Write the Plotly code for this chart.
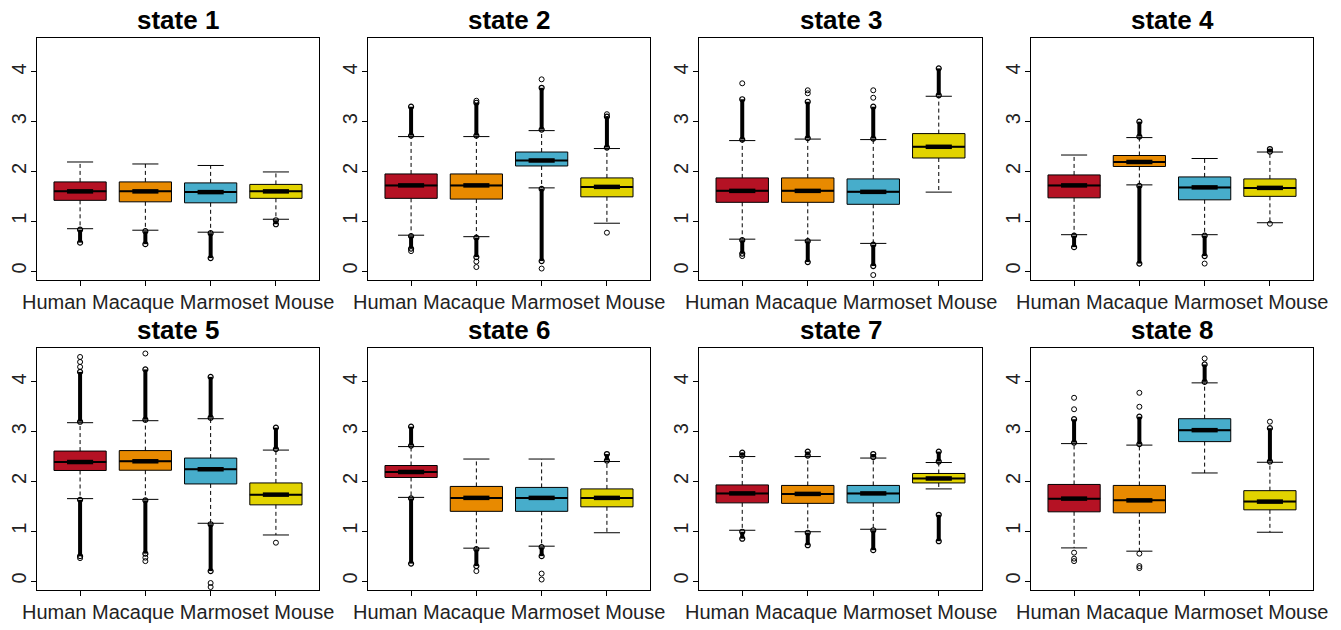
import plotly.graph_objects as go

STATES = ["state 1", "state 2", "state 3", "state 4",
          "state 5", "state 6", "state 7", "state 8"]
SPECIES = ["Human", "Macaque", "Marmoset", "Mouse"]
COLORS = ["#B51224", "#E88A00", "#47ADCB", "#E2D300"]
Y_TICKS = [0, 1, 2, 3, 4]

# box statistics per state (rows) and species (columns)
Q1 = [
    [1.42, 1.39, 1.37, 1.46],
    [1.46, 1.445, 2.11, 1.49],
    [1.38, 1.38, 1.34, 2.27],
    [1.47, 2.10, 1.43, 1.50],
    [2.22, 2.225, 1.95, 1.53],
    [2.08, 1.40, 1.40, 1.49],
    [1.57, 1.56, 1.57, 1.97],
    [1.39, 1.37, 2.80, 1.43],
]
MEDIAN = [
    [1.60, 1.60, 1.585, 1.60],
    [1.72, 1.72, 2.22, 1.69],
    [1.61, 1.61, 1.59, 2.495],
    [1.72, 2.19, 1.68, 1.67],
    [2.39, 2.405, 2.245, 1.735],
    [2.19, 1.67, 1.67, 1.67],
    [1.76, 1.75, 1.76, 2.06],
    [1.655, 1.62, 3.03, 1.595],
]
Q3 = [
    [1.79, 1.79, 1.77, 1.74],
    [1.95, 1.95, 2.39, 1.87],
    [1.87, 1.87, 1.85, 2.76],
    [1.93, 2.32, 1.89, 1.85],
    [2.61, 2.62, 2.47, 1.97],
    [2.32, 1.90, 1.88, 1.85],
    [1.93, 1.92, 1.92, 2.16],
    [1.94, 1.92, 3.26, 1.815],
]
WHISK_LO = [
    [0.85, 0.82, 0.78, 1.04],
    [0.72, 0.69, 1.67, 0.96],
    [0.64, 0.62, 0.555, 1.585],
    [0.73, 1.73, 0.73, 0.97],
    [1.655, 1.64, 1.16, 0.925],
    [1.68, 0.66, 0.70, 0.97],
    [1.02, 0.99, 1.04, 1.85],
    [0.665, 0.60, 2.17, 0.98],
]
WHISK_HI = [
    [2.19, 2.15, 2.12, 1.99],
    [2.70, 2.70, 2.82, 2.46],
    [2.62, 2.65, 2.64, 3.51],
    [2.33, 2.68, 2.26, 2.39],
    [3.18, 3.22, 3.26, 2.63],
    [2.70, 2.45, 2.45, 2.40],
    [2.50, 2.50, 2.47, 2.38],
    [2.76, 2.73, 3.98, 2.385],
]
# dense runs of outliers (low, high)
DENSE_OUT = [
    [[(0.57, 0.83)], [(0.54, 0.80)], [(0.26, 0.76)], [(0.94, 1.02)]],
    [[(2.72, 3.30), (0.45, 0.70)], [(2.72, 3.38), (0.28, 0.67)],
     [(2.84, 3.68), (0.20, 1.65)], [(2.48, 3.10)]],
    [[(2.64, 3.45), (0.35, 0.62)], [(2.67, 3.40), (0.18, 0.60)],
     [(2.66, 3.30), (0.10, 0.53)], [(3.53, 4.07)]],
    [[(0.48, 0.71)], [(2.70, 3.00), (0.15, 1.71)], [(0.30, 0.71)], [(2.40, 2.45)]],
    [[(3.20, 4.20), (0.50, 1.63)], [(3.24, 4.25), (0.55, 1.62)],
     [(3.28, 4.10), (0.20, 1.14)], [(2.65, 3.08)]],
    [[(2.72, 3.10), (0.35, 1.66)], [(0.30, 0.64)], [(0.50, 0.68)], [(2.42, 2.55)]],
    [[(2.52, 2.58), (0.85, 0.99)], [(2.52, 2.60), (0.72, 0.97)],
     [(2.49, 2.55), (0.62, 1.02)], [(2.40, 2.60), (0.80, 1.33)]],
    [[(2.78, 3.25)], [(2.75, 3.30)], [(4.00, 4.35)], [(2.40, 3.07)]],
]
# isolated outliers
SPARSE_OUT = [
    [[], [], [], []],
    [[0.40], [3.42, 0.19, 0.08], [3.85, 0.05], [3.15, 0.77]],
    [[3.77, 0.30], [3.57, 3.63], [3.48, 3.63, -0.08], []],
    [[], [], [0.15], [0.95]],
    [[4.3, 4.4, 4.5, 0.46], [4.57, 0.40, 0.47], [-0.04, -0.12], [0.77]],
    [[], [0.20], [0.15, 0.03], []],
    [[], [], [], []],
    [[3.45, 3.68, 0.57, 0.45, 0.40], [3.50, 3.78, 0.55, 0.30, 0.26], [4.47], [3.20]],
]

W, H = 1341, 630
COL_L = [37, 368, 699, 1031]
COL_R = [319, 650, 982, 1313]
ROW_T = [38, 348]
ROW_B = [280, 590]
BOXW = 0.8
STAPLE = 0.2
FONT = "Liberation Sans, Arial, Helvetica, sans-serif"

fig = go.Figure()
annotations = []
for s in range(8):
    r, c = divmod(s, 4)
    k = s + 1
    xa = "x" if k == 1 else f"x{k}"
    ya = "y" if k == 1 else f"y{k}"
    for j, sp in enumerate(SPECIES):
        pos = j + 1
        q1, md, q3 = Q1[s][j], MEDIAN[s][j], Q3[s][j]
        lo, hi = WHISK_LO[s][j], WHISK_HI[s][j]
        # whiskers (dashed)
        fig.add_trace(go.Scatter(
            x=[pos, pos, None, pos, pos], y=[q3, hi, None, q1, lo],
            mode="lines", line=dict(color="black", width=1, dash="4px,3px"),
            xaxis=xa, yaxis=ya, showlegend=False, hoverinfo="skip"))
        # staples
        fig.add_trace(go.Scatter(
            x=[pos - STAPLE, pos + STAPLE, None, pos - STAPLE, pos + STAPLE],
            y=[hi, hi, None, lo, lo],
            mode="lines", line=dict(color="black", width=1),
            xaxis=xa, yaxis=ya, showlegend=False, hoverinfo="skip"))
        # box
        fig.add_trace(go.Box(
            x=[pos], q1=[q1], median=[md], q3=[q3],
            lowerfence=[q1], upperfence=[q3],
            width=BOXW, whiskerwidth=0, boxpoints=False,
            fillcolor=COLORS[j], line=dict(color="black", width=1),
            xaxis=xa, yaxis=ya, showlegend=False, hoverinfo="skip", name=sp))
        # median: full width + thick central notch segment
        fig.add_trace(go.Scatter(
            x=[pos - BOXW / 2, pos + BOXW / 2], y=[md, md],
            mode="lines", line=dict(color="black", width=2),
            xaxis=xa, yaxis=ya, showlegend=False, hoverinfo="skip"))
        fig.add_trace(go.Scatter(
            x=[pos - BOXW / 4, pos + BOXW / 4], y=[md, md],
            mode="lines", line=dict(color="black", width=4.5),
            xaxis=xa, yaxis=ya, showlegend=False, hoverinfo="skip"))
        # dense outlier runs
        for (a, b) in DENSE_OUT[s][j]:
            fig.add_trace(go.Scatter(
                x=[pos, pos], y=[a, b], mode="lines+markers",
                line=dict(color="black", width=4),
                marker=dict(symbol="circle-open", size=5, color="black",
                            line=dict(width=1.2)),
                xaxis=xa, yaxis=ya, showlegend=False, hoverinfo="skip"))
        # isolated outliers
        pts = SPARSE_OUT[s][j]
        if pts:
            fig.add_trace(go.Scatter(
                x=[pos] * len(pts), y=pts, mode="markers",
                marker=dict(symbol="circle-open", size=5, color="black",
                            line=dict(width=1)),
                xaxis=xa, yaxis=ya, showlegend=False, hoverinfo="skip"))

    xdom = [COL_L[c] / W, COL_R[c] / W]
    ydom = [1 - ROW_B[r] / H, 1 - ROW_T[r] / H]
    axis_common = dict(showline=True, mirror=True, linecolor="black", linewidth=1,
                       showgrid=False, zeroline=False, ticks="outside",
                       ticklen=5, tickcolor="black", automargin=False,
                       tickfont=dict(family=FONT, size=20, color="#222"))
    fig.layout[f"xaxis{k if k > 1 else ''}"] = dict(
        domain=xdom, anchor=ya, range=[0.34, 4.66],
        tickvals=[1, 2, 3, 4], showticklabels=False, **axis_common)
    fig.layout[f"yaxis{k if k > 1 else ''}"] = dict(
        domain=ydom, anchor=xa, range=[-0.18, 4.68],
        tickvals=Y_TICKS, ticktext=[str(t) for t in Y_TICKS], tickangle=-90,
        ticklabelstandoff=-3, **axis_common)
    xc = (xdom[0] + xdom[1]) / 2
    # category labels, set as one line under the panel as in the source figure
    annotations.append(dict(
        text=" ".join(SPECIES), x=xc, y=1 - (ROW_B[r] + 22) / H,
        xref="paper", yref="paper", xanchor="center", yanchor="middle",
        showarrow=False, font=dict(family=FONT, size=20, color="#222")))
    annotations.append(dict(
        text=f"<b>{STATES[s]}</b>", x=xc,
        y=1 - (ROW_T[r] - 18) / H, xref="paper", yref="paper",
        xanchor="center", yanchor="middle", showarrow=False,
        font=dict(family=FONT, size=26, color="black")))

fig.update_layout(
    width=W, height=H, margin=dict(l=0, r=0, t=0, b=0),
    paper_bgcolor="white", plot_bgcolor="white",
    annotations=annotations, showlegend=False)

fig.write_html("out.html")
